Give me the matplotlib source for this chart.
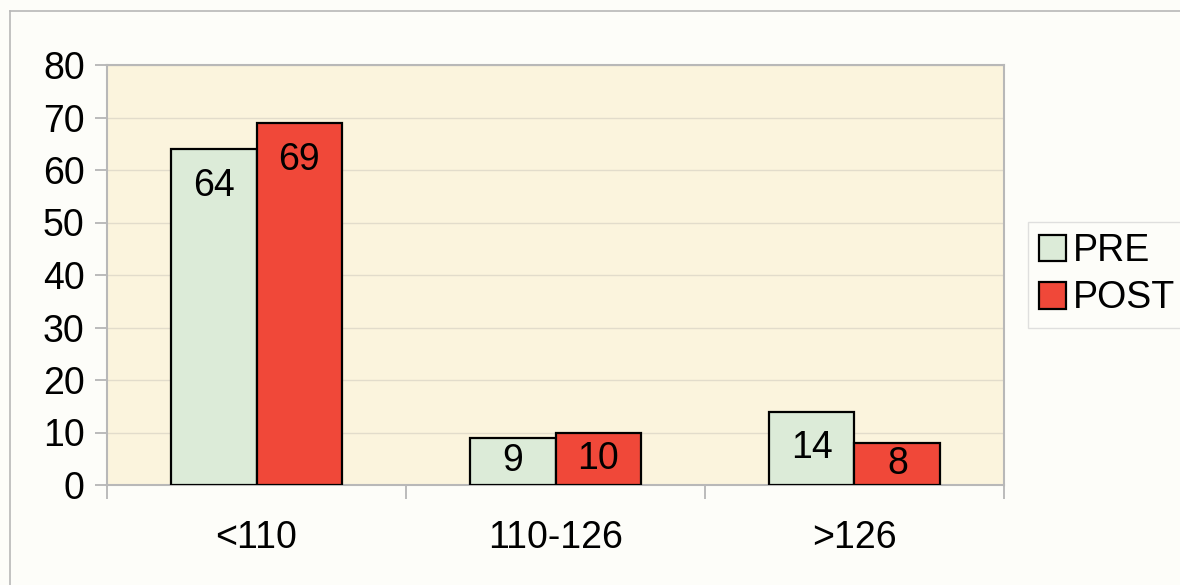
import numpy as np
import matplotlib.pyplot as plt
from matplotlib.lines import Line2D

plt.rcParams['font.family'] = ['Liberation Sans', 'DejaVu Sans']

categories = ['<110', '110-126', '>126']
pre_vals = [64, 9, 14]
post_vals = [69, 10, 8]
yticks = [0, 10, 20, 30, 40, 50, 60, 70, 80]

pre_color = '#dcebd8'
post_color = '#f04839'
fs = 27

fig = plt.figure(figsize=(11.8, 5.85), dpi=100)
fig.patch.set_facecolor('#fdfdf9')

# outer chart frame: only top and left edges fall on the page
fx, fy = 10 / 1180, 1 - 11 / 585
fig.add_artist(Line2D([fx, 1], [fy, fy], transform=fig.transFigure, color='#b8b8b8', linewidth=1.2))
fig.add_artist(Line2D([fx, fx], [0, fy], transform=fig.transFigure, color='#b8b8b8', linewidth=1.2))

ax = fig.add_axes([107 / 1180, 1 - 485 / 585, (1004 - 107) / 1180, (485 - 65) / 585])
ax.set_facecolor('#fbf4dd')

x = np.arange(len(categories))
w = 0.287
b1 = ax.bar(x - w / 2, pre_vals, w, color=pre_color, edgecolor='black', linewidth=1.6, label='PRE', zorder=3)
b2 = ax.bar(x + w / 2, post_vals, w, color=post_color, edgecolor='black', linewidth=1.6, label='POST', zorder=3)

for bars, vals in [(b1, pre_vals), (b2, post_vals)]:
    for r, v in zip(bars, vals):
        cx = r.get_x() + r.get_width() / 2
        if v > 20:
            ax.annotate(str(v), (cx, v), xytext=(0, -27), textcoords='offset points',
                        ha='center', va='center', fontsize=fs, zorder=4)
        else:
            ax.text(cx, v / 2, str(v), ha='center', va='center', fontsize=fs, zorder=4)

ax.set_xlim(-0.5, 2.5)
ax.set_ylim(0, 80)
ax.set_yticks(yticks)
ax.yaxis.grid(True, color='#e2dccb', linewidth=1.0, zorder=0)
ax.set_axisbelow(True)

ax.set_xticks(x)
ax.set_xticklabels(categories, fontsize=fs)
ax.set_xticks([-0.5, 0.5, 1.5, 2.5], minor=True)
ax.tick_params(axis='x', which='major', length=0, pad=25)
ax.tick_params(axis='x', which='minor', length=10, color='#b0b0b0', width=1.2)
ax.tick_params(axis='y', labelsize=fs, length=9, color='#b0b0b0', width=1.2, pad=7)

for s in ['left', 'bottom', 'right', 'top']:
    ax.spines[s].set_color('#b8b8b8')
    ax.spines[s].set_linewidth(1.5)

leg = fig.legend(handles=[b1, b2], labels=['PRE', 'POST'], loc='upper left',
                 bbox_to_anchor=(1028 / 1180, 1 - 222 / 585), fontsize=fs,
                 frameon=True, fancybox=False, edgecolor='#d8d8d8', facecolor='#fdfdf9',
                 handlelength=0.7, handleheight=0.7, handletextpad=0.2,
                 borderpad=0.3, labelspacing=0.3, borderaxespad=0)

fig.savefig('out.png', dpi=100, facecolor=fig.get_facecolor())
